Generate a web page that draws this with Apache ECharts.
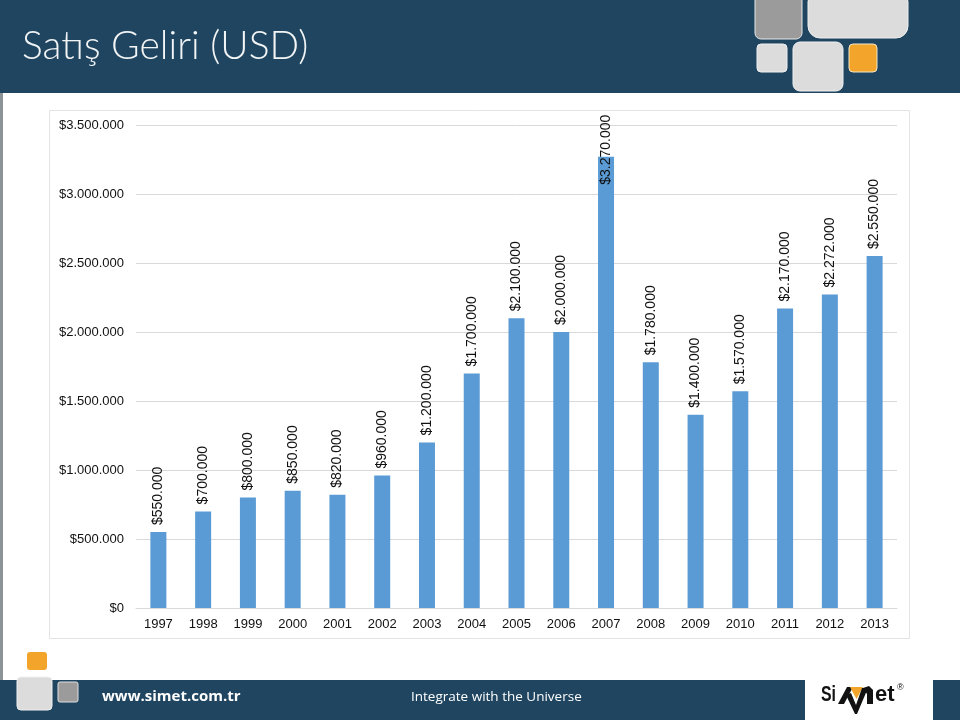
<!DOCTYPE html>
<html>
<head>
<meta charset="utf-8">
<script src="https://cdn.jsdelivr.net/npm/echarts@6/dist/echarts.min.js"></script>
<style>
html,body{margin:0;padding:0;background:#fff;}
#chart{width:960px;height:720px;}
</style>
</head>
<body>
<div id="chart"></div>
<script>
var titleText = 'Satış Geliri (USD)';
var years = ['1997','1998','1999','2000','2001','2002','2003','2004','2005','2006','2007','2008','2009','2010','2011','2012','2013'];
var revenue = [550000, 700000, 800000, 850000, 820000, 960000, 1200000, 1700000, 2100000, 2000000, 3270000, 1780000, 1400000, 1570000, 2170000, 2272000, 2550000];
var yTicks = [0, 500000, 1000000, 1500000, 2000000, 2500000, 3000000, 3500000];

function fmt(v){
  var s = String(Math.round(v));
  return '$' + s.replace(/\B(?=(\d{3})+(?!\d))/g, '.');
}

var navy = '#1f4560';
var chart = echarts.init(document.getElementById('chart'), null, {renderer:'canvas'});

var dataItems = revenue.map(function(v, i){
  var item = {value: v};
  if (years[i] === '2007') {
    item.label = {position: ['50%', 28]};
  }
  return item;
});

var option = {
  animation: false,
  backgroundColor: '#ffffff',
  grid: {left: 136, right: 63, top: 125, bottom: 112, containLabel: false},
  xAxis: {
    type: 'category',
    data: years,
    axisLine: {show: true, lineStyle: {color: '#d9d9d9', width: 1}},
    axisTick: {show: false},
    axisLabel: {color: '#111', fontFamily: 'Liberation Sans, Arial', fontSize: 13, margin: 10}
  },
  yAxis: {
    type: 'value',
    min: yTicks[0],
    max: yTicks[yTicks.length - 1],
    interval: 500000,
    axisLine: {show: false},
    axisTick: {show: false},
    splitLine: {lineStyle: {color: '#d9d9d9', width: 1}},
    axisLabel: {color: '#111', fontFamily: 'Liberation Sans, Arial', fontSize: 13, margin: 12, formatter: fmt}
  },
  series: [{
    type: 'bar',
    data: dataItems,
    barWidth: 16,
    itemStyle: {color: '#5b9bd5'},
    label: {
      show: true,
      position: 'top',
      distance: 7,
      rotate: 90,
      align: 'left',
      verticalAlign: 'middle',
      color: '#111',
      fontFamily: 'Liberation Sans, Arial',
      fontSize: 14,
      formatter: function(p){ return fmt(p.value); }
    }
  }],
  graphic: [
    {type:'rect', shape:{x:0,y:0,width:960,height:93}, style:{fill:navy}, z:-10},
    {type:'text', left:22, top:27, style:{text:titleText, fill:'#f2f4f5', font:'300 39px Lato, "Open Sans", sans-serif'}},
    {type:'rect', shape:{x:755,y:-8,width:47,height:47,r:6}, style:{fill:'#9b9b9b', stroke:'#e8e8e8', lineWidth:1}},
    {type:'rect', shape:{x:808,y:-10,width:100,height:48,r:12}, style:{fill:'#dcdcdc', stroke:'#f0f0f0', lineWidth:1}},
    {type:'rect', shape:{x:757,y:44,width:30,height:28,r:4}, style:{fill:'#dcdcdc', stroke:'#f0f0f0', lineWidth:1}},
    {type:'rect', shape:{x:793,y:42,width:50,height:49,r:7}, style:{fill:'#dcdcdc', stroke:'#f0f0f0', lineWidth:1}},
    {type:'rect', shape:{x:849,y:44,width:28,height:28,r:4}, style:{fill:'#f2a52a', stroke:'#f5e8c8', lineWidth:1}},
    {type:'rect', shape:{x:0,y:93,width:3,height:587}, style:{fill:'#8c9497'}},
    {type:'rect', shape:{x:49.5,y:110.5,width:860,height:528}, style:{fill:'none', stroke:'#e3e3e3', lineWidth:1}, z:-5},
    {type:'rect', shape:{x:0,y:680,width:960,height:40}, style:{fill:navy}},
    {type:'rect', shape:{x:27,y:652,width:20,height:18,r:3}, style:{fill:'#f2a52a'}},
    {type:'rect', shape:{x:17,y:677,width:35,height:33,r:4}, style:{fill:'#dcdcdc', stroke:'#f0f0f0', lineWidth:1}},
    {type:'rect', shape:{x:58,y:682,width:20,height:20,r:2}, style:{fill:'#9b9b9b', stroke:'#e0e0e0', lineWidth:1}},
    {type:'text', left:102, top:689, style:{text:'www.simet.com.tr', fill:'#ffffff', font:'bold 15px "Open Sans", sans-serif'}},
    {type:'text', left:411, top:690, style:{text:'Integrate with the Universe', fill:'#ffffff', font:'13.5px "Open Sans", sans-serif'}},
    {type:'rect', shape:{x:805,y:680,width:128,height:40}, style:{fill:'#ffffff'}},
    {type:'text', x:821, y:684, scaleX:0.72, style:{text:'Si', fill:'#111', font:'bold 22px "Liberation Sans", Arial'}},
    {type:'polygon', shape:{points:[[838,704],[847,687],[853,687],[844,704]]}, style:{fill:'#111'}},
    {type:'polygon', shape:{points:[[850,687],[863,687],[856.5,699]]}, style:{fill:'#f2a52a'}},
    {type:'polygon', shape:{points:[[846,695],[851,693],[856,705],[862,688],[868,688],[857,714],[855,714]]}, style:{fill:'#111'}},
    {type:'polygon', shape:{points:[[863,688],[869,686],[873,690],[873,704],[867,704],[867,694]]}, style:{fill:'#111'}},
    {type:'text', x:875, y:684, style:{text:'et', fill:'#111', font:'bold 22px "Liberation Sans", Arial'}},
    {type:'text', x:897, y:683, style:{text:'®', fill:'#111', font:'9px "Liberation Sans", Arial'}}
  ]
};
chart.setOption(option);
</script>
</body>
</html>
